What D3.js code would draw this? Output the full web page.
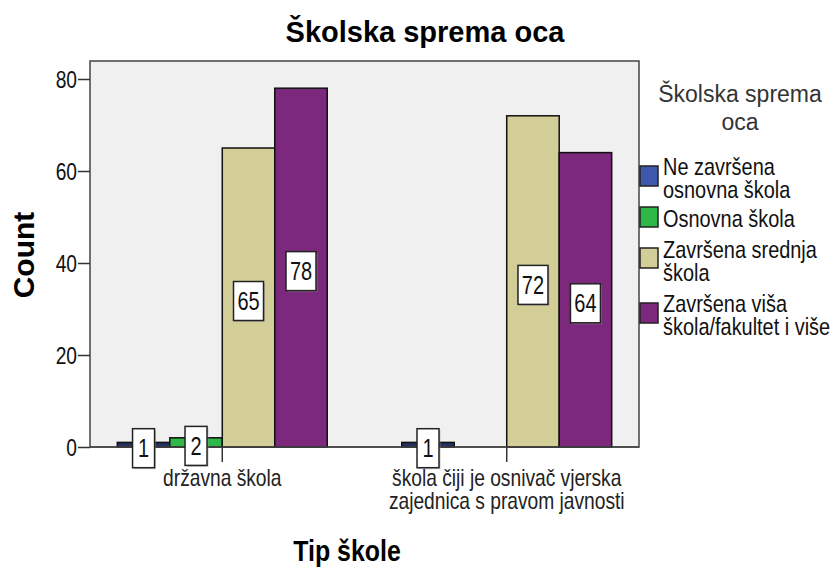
<!DOCTYPE html>
<html>
<head>
<meta charset="utf-8">
<script src="https://cdn.jsdelivr.net/npm/d3@7"></script>
<style>
  html, body { margin: 0; padding: 0; background: #fff; }
  svg { display: block; }
</style>
</head>
<body>
<svg id="chart" width="833" height="572"></svg>
<script>
// ---- data ----
const categories = ["državna škola", "škola čiji je osnivač vjerska zajednica s pravom javnosti"];
const categoryLines = [["državna škola"], ["škola čiji je osnivač vjerska", "zajednica s pravom javnosti"]];
const seriesNames = ["Ne završena osnovna škola", "Osnovna škola", "Završena srednja škola", "Završena viša škola/fakultet i više"];
const seriesLegendLines = [["Ne završena", "osnovna škola"], ["Osnovna škola"], ["Završena srednja", "škola"], ["Završena viša", "škola/fakultet i više"]];
const neZavrsenaOsnovna = [1, 1];
const osnovnaSkola = [2, 0];
const zavrsenaSrednja = [65, 72];
const zavrsenaVisa = [78, 64];
const seriesColors = ["#3E58AC", "#2EB848", "#D3CE97", "#7C287D"];
const yTicks = [0, 20, 40, 60, 80];
const chartTitle = "Školska sprema oca";
const xTitle = "Tip škole";
const yTitle = "Count";
const legendTitleLines = ["Školska sprema", "oca"];

const seriesValues = [neZavrsenaOsnovna, osnovnaSkola, zavrsenaSrednja, zavrsenaVisa];

// ---- layout ----
const plot = { left: 90, right: 639, top: 61, bottom: 447 };
const NARROW = 0.8;
const svg = d3.select("#chart");

function narrowText(g, x, y, txt, size, anchor, color, scale) {
  return g.append("text")
    .attr("transform", `translate(${x},${y}) scale(${scale || NARROW},1)`)
    .attr("font-family", "'Liberation Sans', Arial, sans-serif")
    .attr("font-size", size)
    .attr("text-anchor", anchor)
    .attr("fill", color || "#111")
    .text(txt);
}

const x0 = d3.scaleBand().domain(categories).range([plot.left, plot.right])
  .paddingInner(0.262).paddingOuter(0.096);
const x1 = d3.scaleBand().domain(seriesNames).range([0, x0.bandwidth()]).padding(0);
const y = d3.scaleLinear().domain([0, (plot.bottom - plot.top) / 4.6]).range([plot.bottom, plot.top]);

// background frame
svg.append("rect")
  .attr("x", plot.left).attr("y", plot.top)
  .attr("width", plot.right - plot.left).attr("height", plot.bottom - plot.top)
  .attr("fill", "#F0F0F0").attr("stroke", "#444").attr("stroke-width", 1.5);

// title
svg.append("text").attr("x", 425).attr("y", 42)
  .attr("font-family", "'Liberation Sans', Arial, sans-serif")
  .attr("font-size", 29).attr("font-weight", "bold")
  .attr("text-anchor", "middle").attr("fill", "#000").text(chartTitle);

// bars
const rows = [];
categories.forEach((c, ci) => {
  seriesNames.forEach((s, si) => {
    const v = seriesValues[si][ci];
    if (v > 0) rows.push({ c, s, si, v });
  });
});

const barG = svg.append("g");
barG.selectAll("rect").data(rows).join("rect")
  .attr("x", d => x0(d.c) + x1(d.s))
  .attr("y", d => y(d.v))
  .attr("width", x1.bandwidth())
  .attr("height", d => y(0) - y(d.v))
  .attr("fill", d => d.v < 2 ? "#24305F" : seriesColors[d.si])
  .attr("stroke", "#111").attr("stroke-width", 1.5);

// x axis line
svg.append("line").attr("x1", plot.left).attr("x2", plot.right)
  .attr("y1", plot.bottom).attr("y2", plot.bottom)
  .attr("stroke", "#444").attr("stroke-width", 1.5);

// y axis
const yAxis = d3.axisLeft(y).tickValues(yTicks).tickSize(12).tickFormat("");
const yg = svg.append("g").attr("transform", `translate(${plot.left},0)`).call(yAxis);
yg.select(".domain").remove();
yg.selectAll(".tick line").attr("stroke", "#333").attr("stroke-width", 1.5);
yTicks.forEach(t => {
  narrowText(svg, plot.left - 13, y(t) + 8.5, String(t), 24, "end", "#111");
});

// x axis ticks + labels
const xAxis = d3.axisBottom(x0).tickSize(15).tickFormat("");
const xg = svg.append("g").attr("transform", `translate(0,${plot.bottom})`).call(xAxis);
xg.select(".domain").remove();
xg.selectAll(".tick line").attr("stroke", "#333").attr("stroke-width", 1.5);
categories.forEach((c, ci) => {
  categoryLines[ci].forEach((ln, li) => {
    narrowText(svg, x0(c) + x0.bandwidth() / 2, 486 + li * 23, ln, 24, "middle", "#222");
  });
});

// value labels
const lblG = svg.append("g");
rows.forEach(d => {
  const cx = x0(d.c) + x1(d.s) + x1.bandwidth() / 2;
  const cy = y(d.v / 2) + 3.5;
  const txt = String(d.v);
  const w = txt.length > 1 ? 30 : 22;
  const h = 39;
  lblG.append("rect").attr("x", cx - w / 2 + 1.5).attr("y", cy - h / 2 + 1.5)
    .attr("width", w).attr("height", h).attr("fill", "#999").attr("opacity", 0.5);
  lblG.append("rect").attr("x", cx - w / 2).attr("y", cy - h / 2)
    .attr("width", w).attr("height", h)
    .attr("fill", "#fff").attr("stroke", "#222").attr("stroke-width", 1.5);
  narrowText(lblG, cx, cy + 9, txt, 25, "middle", "#111");
});

// axis titles
svg.append("text").attr("transform", "translate(347,561) scale(0.86,1)")
  .attr("font-family", "'Liberation Sans', Arial, sans-serif")
  .attr("font-size", 29).attr("font-weight", "bold")
  .attr("text-anchor", "middle").attr("fill", "#000").text(xTitle);

svg.append("text").attr("transform", "translate(34,255) rotate(-90)")
  .attr("font-family", "'Liberation Sans', Arial, sans-serif")
  .attr("font-size", 30).attr("font-weight", "bold")
  .attr("text-anchor", "middle").attr("fill", "#000").text(yTitle);

// legend
const legG = svg.append("g");
legendTitleLines.forEach((ln, i) => {
  legG.append("text").attr("x", 740).attr("y", 102 + i * 28)
    .attr("font-family", "'Liberation Sans', Arial, sans-serif")
    .attr("font-size", 23).attr("text-anchor", "middle").attr("fill", "#333").text(ln);
});
const legendTops = [166, 207, 248, 303];
const legendBase = [175, 227, 258, 312];
seriesNames.forEach((s, i) => {
  legG.append("rect").attr("x", 640).attr("y", legendTops[i])
    .attr("width", 18).attr("height", 20)
    .attr("fill", seriesColors[i]).attr("stroke", "#222").attr("stroke-width", 1.5);
  seriesLegendLines[i].forEach((ln, li) => {
    narrowText(legG, 663, legendBase[i] + li * 23, ln, 24, "start", "#111", 0.83);
  });
});
</script>
</body>
</html>
